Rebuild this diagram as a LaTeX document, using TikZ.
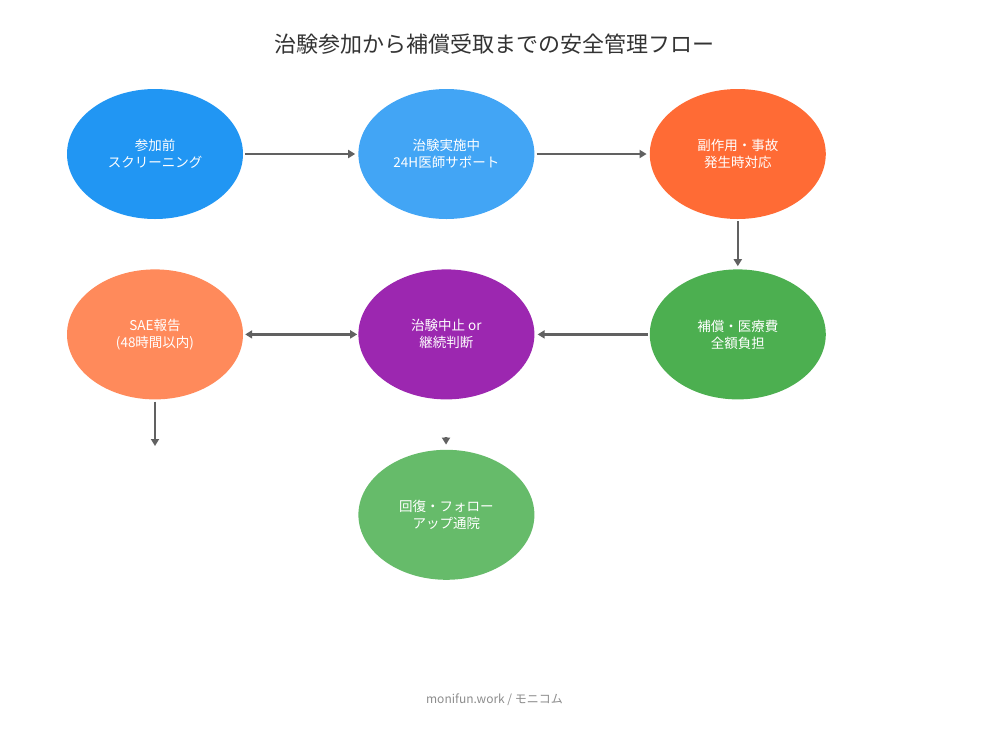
\documentclass[tikz,border=0pt]{standalone}
\usepackage{fontspec}
\setmainfont{Noto Sans CJK JP}
\usepackage{tikz}
\usetikzlibrary{shapes.geometric,arrows.meta,positioning}
\definecolor{scr-blue}{HTML}{2196F3}
\definecolor{run-blue}{HTML}{42A5F5}
\definecolor{ae-orange}{HTML}{FF6B35}
\definecolor{sae-orange}{HTML}{FF8A5B}
\definecolor{halt-purple}{HTML}{9C27B0}
\definecolor{comp-green}{HTML}{4CAF50}
\definecolor{recov-green}{HTML}{66BB6A}
\definecolor{arrow-gray}{HTML}{616161}

\begin{document}
\begin{tikzpicture}[x=1pt, y=-1pt,
  stage/.style={ellipse, minimum width=176pt, minimum height=130pt,
                inner sep=0pt, align=center, text=white,
                font=\fontsize{13.5}{17}\selectfont},
  flow/.style={-{Triangle[length=7pt,width=8pt]}, draw=arrow-gray,
               line width=2.6pt, shorten <=2pt, shorten >=3pt},
  both/.style={{Triangle[length=7pt,width=8pt]}-{Triangle[length=7pt,width=8pt]},
               draw=arrow-gray, line width=2.6pt, shorten <=2pt, shorten >=1pt},
  node distance=50pt and 115pt
]
  \useasboundingbox (0,0) rectangle (989,740);

  % Title
  \node[text=black!80, font=\fontsize{22}{26}\selectfont] (title) at (494.5,44)
    {治験参加から補償受取までの安全管理フロー};

  % Row 1
  \node[stage, fill=scr-blue] (screen) at (155,154) {参加前\\スクリーニング};
  \node[stage, fill=run-blue, right=of screen] (during) {治験実施中\\24H医師サポート};
  \node[stage, fill=ae-orange, right=of during] (event) {副作用・事故\\発生時対応};

  % Row 2
  \node[stage, fill=comp-green, below=of event] (comp) {補償・医療費\\全額負担};
  \node[stage, fill=halt-purple, below=of during] (halt) {治験中止 or\\継続判断};
  \node[stage, fill=sae-orange, below=of screen] (sae) {SAE報告\\(48時間以内)};

  % Row 3
  \node[stage, fill=recov-green, below=of halt] (recov) {回復・フォロー\\アップ通院};

  % Footer
  \node[text=black!45, font=\fontsize{12}{14}\selectfont] (footer) at (494.5,700)
    {monifun.work / モニコム};

  % free ends
  \coordinate (sae-end) at (155,446);
  \coordinate (halt-gap) at (446,437);

  % Connectors
  \draw[flow] (screen) -- (during);
  \draw[flow] (during) -- (event);
  \draw[flow] (event) -- (comp);
  \draw[flow] (comp) -- (halt);
  \draw[both] (sae) -- (halt);
  \draw[flow, shorten >=0pt] (sae) -- (sae-end);
  \draw[flow, shorten <=0pt, shorten >=5pt] (halt-gap) -- (recov);
\end{tikzpicture}
\end{document}
